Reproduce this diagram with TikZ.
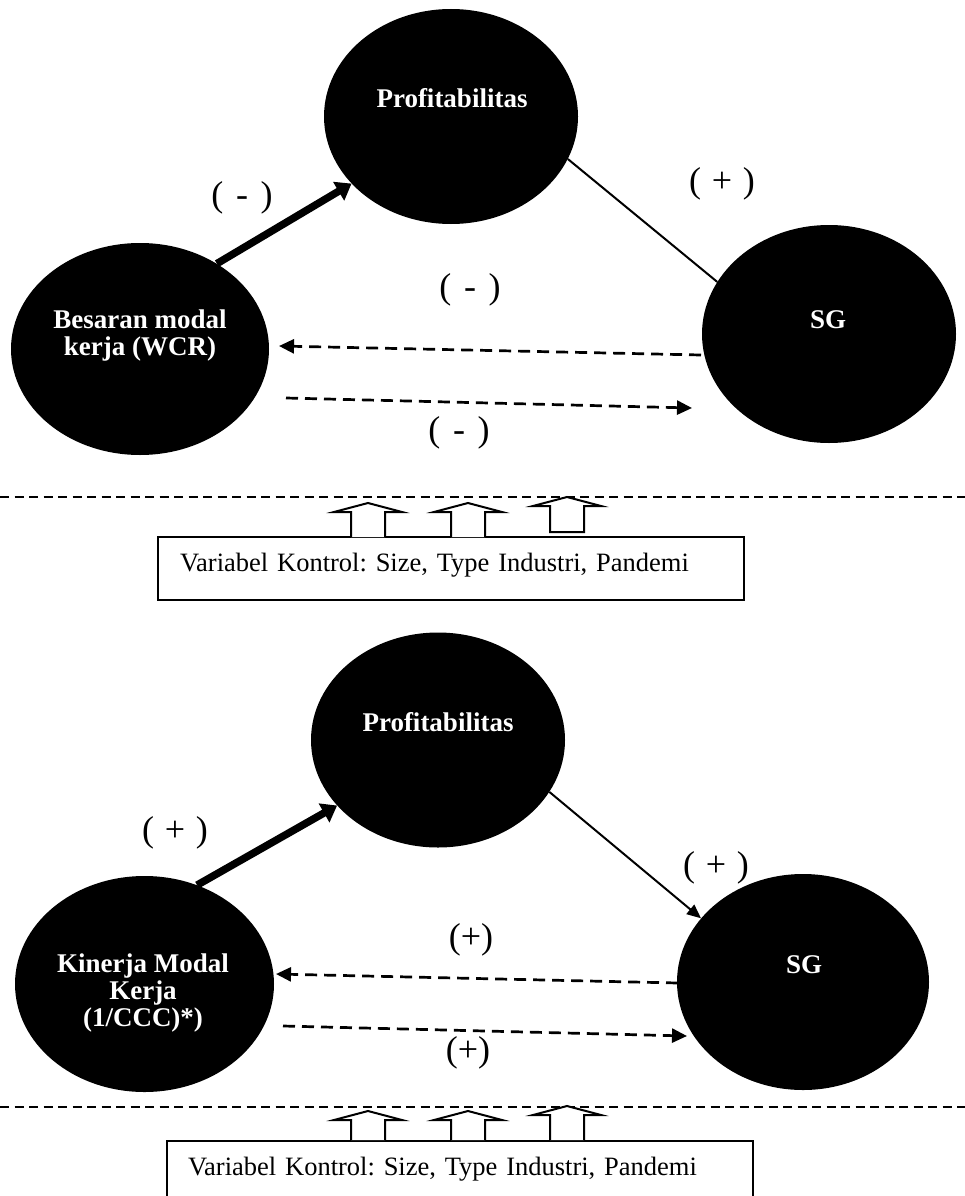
\documentclass[tikz,border=0pt]{standalone}
\usepackage{fontspec}
\setmainfont{Liberation Serif}
\usetikzlibrary{shapes.geometric,arrows.meta,calc}
\frenchspacing
\newcommand{\blkup}[5]{% x, apex y, base y, bottom y, closing
  \draw[blockline] (#1-17,#4) -- (#1-17,#3) -- (#1-34,#3) -- (#1,#2) -- (#1+34,#3) -- (#1+17,#3) -- (#1+17,#4) #5;}
\begin{document}
\begin{tikzpicture}[x=1pt,y=-1pt,
  blob/.style={ellipse,fill=black,draw=none,inner sep=0pt},
  ntext/.style={text=white,font=\fontsize{27}{27}\selectfont\bfseries,align=center,inner sep=0pt},
  lbl/.style={font=\fontsize{36}{40}\selectfont,inner sep=0pt},
  bigarrow/.style={line width=7.5pt,-{Triangle[length=15pt,width=21pt]}},
  thinlink/.style={line width=2pt},
  thinarrow/.style={line width=2pt,-{Triangle[length=14pt,width=12pt]}},
  dasharrow/.style={line width=2.7pt,dash pattern=on 12pt off 7pt,-{Triangle[length=15pt,width=14pt]}},
  sepline/.style={line width=1.6pt,dash pattern=on 9pt off 5.5pt},
  ctrlbox/.style={draw,line width=2pt,rectangle,inner sep=0pt,font=\fontsize{26.5}{30}\selectfont,align=left,text depth=13pt},
  blockline/.style={draw,line width=2pt,fill=white,line join=miter}
]
\useasboundingbox (0,0) rectangle (965,1196);

% ---------- top diagram ----------
\node[blob,minimum width=254pt,minimum height=215pt] (p1) at (451,116.5) {};
\node[ntext] (p1t) at (452,98) {Profitabilitas};
\node[blob,minimum width=258pt,minimum height=212pt] (b1) at (140,349) {};
\node[ntext] (b1t) at (140,336) {Besaran modal\\kerja (WCR)};
\node[blob,minimum width=254pt,minimum height=218pt] (s1) at (829,334) {};
\node[ntext] (s1t) at (828,320) {SG};

\draw[bigarrow] (b1.48) -- (p1.214);
\draw[thinlink] (p1.-20) -- (s1.155);
\coordinate (s1l) at (701,355);
\coordinate (b1r) at (279,346);
\coordinate (b1r2) at (286,398);
\coordinate (s1l2) at (692,408);
\draw[dasharrow] (s1l) -- (b1r);
\draw[dasharrow] (b1r2) -- (s1l2);

\node[lbl] (l1) at (242,198) {(\hspace{0.35em}-\hspace{0.35em})};
\node[lbl] (l2) at (722,184) {(\hspace{0.3em}+\hspace{0.3em})};
\node[lbl] (l3) at (470,290) {(\hspace{0.35em}-\hspace{0.35em})};
\node[lbl] (l4) at (459,433) {(\hspace{0.35em}-\hspace{0.35em})};

\coordinate (d1a) at (0,497);
\coordinate (d1b) at (965,497);
\draw[sepline] (d1a) -- (d1b);

\node[ctrlbox,minimum width=586pt,minimum height=63pt,text width=542pt] (box1) at (451,568.5) {Variabel Kontrol: Size, Type Industri, Pandemi};
\blkup{368}{503}{512}{537}{}
\blkup{468}{503}{512}{537}{}
\blkup{567}{497}{506}{532}{-- cycle}

% ---------- bottom diagram ----------
\node[blob,minimum width=254pt,minimum height=215pt] (p2) at (438,740) {};
\node[ntext] (p2t) at (438,722) {Profitabilitas};
\node[blob,minimum width=259pt,minimum height=216pt] (k2) at (144.5,984) {};
\node[ntext] (k2t) at (143,993) {Kinerja Modal\\Kerja\\(1/CCC)*)};
\node[blob,minimum width=252pt,minimum height=216pt] (s2) at (803,982) {};
\node[ntext] (s2t) at (804,965) {SG};

\draw[bigarrow] (k2.62) -- (p2.213);
\draw[thinarrow] (p2.-25) -- (s2.148);
\coordinate (s2l) at (678,983);
\coordinate (k2r) at (276,974);
\coordinate (k2r2) at (283,1026);
\coordinate (s2l2) at (687,1036);
\draw[dasharrow] (s2l) -- (k2r);
\draw[dasharrow] (k2r2) -- (s2l2);

\node[lbl] (m1) at (175,833) {(\hspace{0.3em}+\hspace{0.3em})};
\node[lbl] (m2) at (716,868) {(\hspace{0.3em}+\hspace{0.3em})};
\node[lbl] (m3) at (471,940) {(+)};
\node[lbl] (m4) at (468,1053) {(+)};

\coordinate (d2a) at (0,1107);
\coordinate (d2b) at (965,1107);
\draw[sepline] (d2a) -- (d2b);

\node[ctrlbox,minimum width=586pt,minimum height=63pt,text width=544pt,anchor=north] (box2) at (460,1140) {Variabel Kontrol: Size, Type Industri, Pandemi};
\blkup{368}{1111}{1120}{1140}{}
\blkup{468}{1111}{1120}{1140}{}
\blkup{567}{1106}{1115}{1140}{}
\end{tikzpicture}
\end{document}
